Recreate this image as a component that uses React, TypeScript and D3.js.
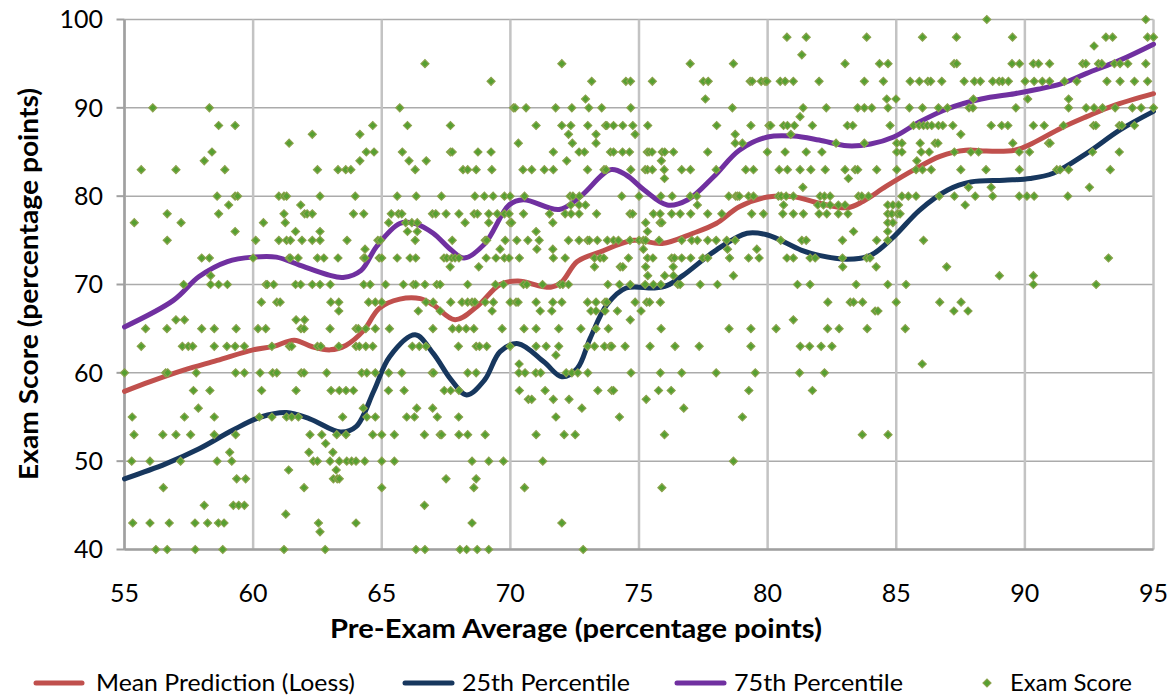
import React from "react";
import * as d3 from "d3";

// Exam scores grouped by score value: each row lists the pre-exam averages of students with that score
const scoreRows: [number, number[]][] = [
  [100, [88.52, 94.7]],
  [98, [80.75, 81.5, 83.85, 86.02, 87.34, 89.52, 93.15, 93.41, 94.77, 95.0]],
  [97, [92.69]],
  [96, [81.33]],
  [95, [66.68, 72.0, 76.99, 78.67, 83.01, 84.35, 84.68, 87.25, 87.35, 89.5, 89.79, 90.33, 90.53, 90.96, 92.25, 92.37, 92.86, 92.99, 93.48, 93.7, 94.0, 94.7]],
  [93, [69.25, 73.16, 74.49, 74.67, 75.52, 77.5, 77.69, 79.32, 79.4, 79.75, 79.9, 79.97, 80.49, 80.68, 81.0, 82.0, 83.76, 84.5, 85.54, 85.9, 86.23, 86.34, 86.77, 87.64, 88.04, 88.27, 88.75, 89.0, 89.13, 89.36, 90.01, 90.36, 90.68, 90.96, 91.54, 92.02, 93.19, 93.7, 94.26, 94.77]],
  [91, [72.92, 77.58, 84.63, 84.99, 88.0, 90.11, 91.7]],
  [90, [56.1, 58.3, 65.7, 70.12, 70.18, 70.61, 71.76, 72.39, 73.05, 73.55, 74.68, 78.63, 81.38, 82.28, 83.5, 83.76, 84.05, 84.68, 85.51, 86.02, 86.64, 86.99, 87.83, 87.98, 89.65, 91.7, 92.38, 92.69, 93.02, 93.51, 94.18, 94.52, 95.0]],
  [89, [81.26]],
  [88, [58.66, 59.3, 64.65, 66.0, 67.67, 71.0, 72.0, 72.35, 73.01, 73.7, 73.75, 74.01, 74.37, 74.76, 75.34, 78.02, 79.35, 80.05, 80.12, 80.62, 80.77, 81.04, 81.74, 83.1, 83.31, 84.76, 85.67, 85.89, 86.06, 86.21, 86.38, 86.64, 86.81, 87.2, 88.69, 89.1, 89.34, 90.33, 90.75, 91.5, 92.67, 92.76, 93.67, 93.77, 94.26]],
  [87, [62.3, 64.15, 72.26, 73.33, 74.85, 78.74, 80.9, 87.51]],
  [86, [61.4, 70.31, 72.41, 73.33, 78.74, 79.02, 82.66, 83.76, 85.02, 85.22, 85.93, 86.51, 86.62, 89.53, 90.92, 90.98]],
  [85, [58.4, 64.4, 64.7, 65.8, 67.67, 67.74, 68.74, 69.25, 71.67, 72.67, 72.88, 73.89, 74.01, 74.36, 74.63, 75.32, 75.39, 75.51, 75.9, 76.0, 76.34, 77.67, 79.99, 80.68, 81.5, 82.11, 85.02, 85.22, 85.97, 86.28, 87.26, 87.9, 88.2, 89.78, 90.18, 92.63, 93.67]],
  [84, [58.1, 64.15, 66.06, 66.73, 72.19, 75.87, 85.8]],
  [83, [55.65, 57.0, 58.9, 62.5, 63.3, 63.6, 63.8, 66.3, 68.16, 68.34, 68.67, 69.28, 70.49, 70.83, 71.32, 71.67, 73.0, 73.64, 73.72, 74.68, 75.24, 75.33, 75.52, 75.98, 76.66, 77.0, 78.0, 79.15, 79.45, 80.45, 80.77, 81.26, 81.68, 82.24, 83.01, 83.4, 83.5, 84.24, 85.02, 85.77, 86.02, 86.36, 87.51, 88.49, 89.79, 91.24, 91.37, 91.7, 93.32]],
  [82, [75.99, 83.14]],
  [81, [81.37, 87.81, 88.69, 92.51]],
  [80, [58.6, 59.3, 59.4, 61.0, 61.2, 61.3, 62.6, 63.97, 65.6, 66.34, 67.32, 68.62, 68.99, 69.33, 69.77, 69.99, 70.55, 72.32, 72.43, 72.68, 74.33, 75.0, 75.85, 76.29, 76.99, 77.25, 78.49, 78.76, 78.83, 78.9, 79.26, 79.45, 80.42, 80.53, 80.72, 81.0, 82.04, 82.21, 82.43, 83.53, 83.66, 83.92, 85.22, 85.47, 85.77, 86.67, 87.26, 88.07, 88.75, 89.78, 90.08, 90.36, 91.67]],
  [79, [59.05, 61.85, 72.35, 72.67, 72.92, 77.27, 80.62, 81.95, 82.17, 82.43, 82.75, 83.01, 84.67, 84.87, 85.09, 87.68]],
  [78, [56.66, 58.66, 61.2, 62.0, 62.1, 62.3, 63.9, 64.3, 65.37, 65.65, 65.78, 66.97, 67.1, 67.5, 68.0, 68.59, 68.72, 69.16, 69.49, 69.77, 69.95, 70.51, 71.52, 72.13, 72.36, 72.67, 73.35, 74.65, 74.75, 75.56, 75.82, 76.27, 76.6, 77.01, 77.67, 78.22, 79.38, 79.84, 80.59, 81.0, 81.39, 82.0, 82.3, 82.75, 83.12, 84.67, 84.83, 85.05, 85.15]],
  [77, [55.38, 57.2, 60.4, 61.25, 65.27, 65.93, 66.17, 66.38, 68.24, 69.16, 69.99, 70.05, 71.65, 75.26, 75.82, 75.89, 84.67, 84.87]],
  [76, [59.3, 61.65, 62.6, 66.0, 66.38, 71.0, 75.33, 83.34, 84.67]],
  [75, [56.66, 60.1, 61.0, 61.3, 61.45, 61.9, 62.3, 62.6, 63.65, 64.85, 64.95, 66.3, 67.74, 69.02, 69.08, 69.8, 70.25, 70.68, 71.12, 72.26, 72.67, 73.0, 73.07, 73.38, 73.77, 74.01, 74.2, 74.65, 75.0, 75.17, 75.26, 75.78, 76.66, 77.05, 77.27, 77.67, 78.0, 78.41, 78.74, 80.51, 81.33, 81.5, 82.91, 84.24, 84.67, 86.06]],
  [74, [64.35, 69.6, 71.03, 71.65, 75.17, 78.44, 79.58]],
  [73, [58.0, 58.3, 60.0, 61.4, 61.45, 61.75, 62.5, 62.75, 63.3, 64.3, 64.35, 64.9, 65.0, 65.6, 66.1, 66.32, 67.42, 67.53, 67.72, 67.85, 68.0, 69.06, 69.44, 69.77, 69.95, 70.35, 71.67, 72.13, 73.27, 73.49, 73.63, 74.59, 75.33, 75.54, 76.27, 76.38, 76.66, 77.01, 77.48, 77.67, 78.52, 79.26, 79.67, 80.75, 81.0, 81.65, 81.85, 82.91, 83.85, 83.98, 93.25]],
  [72, [67.66, 68.77, 73.27, 74.27, 74.37, 75.26, 76.33, 82.92, 84.22, 86.96]],
  [71, [58.35, 75.34, 76.0, 76.34, 78.67, 89.01, 90.33]],
  [70, [57.3, 58.35, 58.66, 59.0, 60.5, 60.55, 60.8, 61.65, 61.85, 62.3, 62.6, 63.0, 64.3, 64.55, 65.15, 65.84, 66.23, 66.32, 66.68, 67.14, 67.27, 68.34, 69.42, 69.73, 70.51, 70.64, 71.25, 71.93, 72.04, 72.26, 73.79, 74.24, 74.66, 75.24, 75.56, 75.85, 76.51, 76.6, 77.38, 78.05, 81.16, 81.65, 83.44, 84.67, 85.38, 90.33, 92.77]],
  [68, [60.32, 60.92, 61.05, 63.02, 63.33, 64.49, 64.75, 65.0, 66.72, 67.0, 67.68, 68.12, 68.34, 68.51, 68.62, 69.02, 69.34, 69.99, 70.22, 70.3, 71.0, 71.65, 72.0, 73.0, 73.33, 73.68, 73.75, 74.85, 75.3, 75.41, 75.83, 82.34, 83.21, 83.34, 83.69, 85.0, 86.69, 87.52]],
  [67, [63.33, 66.42, 67.27, 69.29, 71.16, 71.61, 73.13, 73.33, 73.68, 74.16, 75.08, 84.18, 84.29, 87.24, 87.79]],
  [66, [57.0, 57.33, 61.67, 62.0, 74.66, 81.0]],
  [65, [55.82, 56.65, 58.0, 58.49, 59.34, 60.19, 60.49, 61.86, 61.98, 62.99, 64.0, 64.09, 64.38, 64.75, 65.3, 66.99, 67.75, 68.0, 68.28, 68.58, 69.68, 70.53, 71.0, 71.88, 72.74, 73.33, 73.81, 75.86, 78.5, 79.35, 80.33, 82.33, 82.78, 83.87, 85.35]],
  [63, [55.65, 57.25, 57.48, 57.65, 58.49, 58.98, 59.3, 59.66, 60.73, 61.41, 61.5, 62.5, 62.63, 63.33, 64.0, 64.13, 64.38, 64.65, 66.19, 66.46, 66.72, 67.98, 68.67, 68.8, 69.08, 69.99, 71.0, 71.39, 71.88, 73.0, 73.27, 73.66, 73.88, 73.94, 74.46, 75.43, 76.4, 77.34, 79.35, 81.27, 81.63, 82.08, 82.5]],
  [62, [71.77]],
  [61, [70.34, 86.01]],
  [60, [55.0, 56.6, 56.68, 57.79, 59.32, 59.66, 60.27, 60.76, 60.92, 61.87, 61.98, 62.86, 64.22, 64.42, 64.75, 65.27, 65.78, 66.96, 67.02, 68.34, 68.67, 70.33, 70.57, 70.99, 71.18, 72.17, 72.39, 72.62, 73.01, 74.69, 75.83, 76.66, 78.0, 79.52, 81.24, 82.21]],
  [58, [57.68, 58.32, 60.33, 61.67, 63.03, 63.35, 63.61, 63.9, 65.26, 65.87, 67.43, 67.68, 68.0, 70.35, 71.35, 73.4, 73.94, 74.01, 75.76, 76.25, 79.27, 81.74]],
  [57, [70.7, 70.83, 71.67, 72.28, 75.28]],
  [56, [57.87, 64.28, 66.36, 66.98, 72.78, 76.74]],
  [55, [55.3, 57.33, 58.49, 60.24, 60.73, 61.3, 61.5, 61.76, 63.48, 64.42, 64.75, 65.97, 66.27, 67.16, 67.99, 71.77, 74.24, 79.02]],
  [53, [55.37, 56.49, 57.0, 57.57, 58.49, 59.32, 62.21, 62.67, 63.25, 63.61, 64.65, 65.0, 65.49, 66.66, 67.27, 67.33, 68.0, 68.34, 69.02, 71.0, 72.09, 72.52, 75.99, 83.68, 84.68]],
  [52, [62.82]],
  [51, [59.09, 62.17, 63.1]],
  [50, [55.28, 55.99, 57.18, 58.6, 59.17, 62.34, 62.5, 62.99, 63.35, 63.64, 63.83, 64.0, 64.34, 65.0, 65.49, 68.51, 69.16, 69.73, 71.26, 78.67]],
  [49, [61.38, 63.23]],
  [48, [59.36, 59.71, 63.12, 63.27, 63.35, 67.5, 68.67]],
  [47, [56.51, 61.98, 65.0, 68.58, 70.55, 75.89]],
  [45, [58.1, 59.23, 59.44, 59.66, 66.66]],
  [44, [61.27]],
  [43, [55.32, 55.99, 56.74, 57.74, 58.23, 58.65, 58.87, 62.54, 64.0, 68.51, 72.0]],
  [42, [62.6]],
  [40, [56.22, 56.66, 57.75, 58.82, 61.2, 62.8, 66.33, 66.68, 68.04, 68.3, 68.71, 69.16, 72.83]],
];

// Loess mean prediction (pre-exam average, predicted score)
const meanX = [55, 56, 57.3, 58.6, 60, 60.8, 61.6, 62.3, 63, 63.6, 64.3, 64.9, 65.7, 66.5, 67, 67.85, 68.7, 69.6, 70.3, 71.2, 71.6, 72, 72.6, 73.5, 74.8, 75.9, 77.1, 78, 78.9, 80, 81, 82, 83.1, 83.7, 84.6, 85.7, 86.7, 87.7, 88.5, 89.6, 90.3, 91.4, 92.4, 93.4, 95];
const meanY = [57.9, 59.0, 60.3, 61.4, 62.6, 63.0, 63.7, 62.95, 62.6, 63.1, 64.8, 67.3, 68.35, 68.4, 67.7, 66.0, 67.5, 70.0, 70.4, 69.8, 69.7, 70.3, 72.6, 73.7, 75.0, 74.65, 75.8, 76.9, 78.8, 79.9, 79.95, 79.2, 78.7, 79.4, 81.1, 83.0, 84.5, 85.2, 85.1, 85.2, 86.0, 87.7, 89.0, 90.2, 91.6];

// 25th percentile curve
const p25X = [55, 56.6, 57.9, 59.2, 60.3, 61.3, 62.2, 63.4, 64.0, 64.7, 65.3, 66.3, 67.0, 67.7, 68.3, 69.0, 69.6, 70.3, 71.3, 72.0, 72.6, 73.1, 73.75, 74.5, 75.6, 76.1, 76.7, 78.0, 79.2, 80.0, 81.3, 82.0, 83.1, 84.0, 84.9, 85.9, 87.0, 87.9, 89.2, 90.2, 91.1, 92.4, 93.7, 95];
const p25Y = [48.0, 49.7, 51.4, 53.5, 55.0, 55.5, 54.8, 53.3, 53.9, 58.0, 61.8, 64.3, 62.2, 59.2, 57.5, 59.2, 62.4, 63.3, 61.25, 59.55, 60.5, 63.9, 67.7, 69.6, 69.6, 69.9, 71.0, 73.9, 75.8, 75.6, 73.9, 73.3, 72.85, 73.3, 75.4, 78.4, 80.7, 81.6, 81.8, 82.0, 82.6, 84.85, 87.5, 89.6];

// 75th percentile curve
const p75X = [55, 56.9, 57.9, 59.0, 60.0, 60.9, 61.8, 62.9, 63.5, 64.2, 64.8, 65.7, 66.3, 67.0, 67.7, 68.2, 69.0, 69.95, 70.5, 71.9, 72.7, 73.9, 74.5, 75.2, 76.1, 76.9, 77.9, 78.9, 80.0, 81.0, 82.0, 83.1, 84.0, 84.9, 85.9, 87.0, 88.3, 89.6, 90.5, 91.4, 92.4, 93.7, 95];
const p75Y = [65.2, 68.2, 70.9, 72.6, 73.1, 73.1, 72.2, 71.1, 70.8, 71.6, 74.3, 76.9, 76.9, 75.8, 73.9, 73.0, 74.6, 79.0, 79.6, 78.5, 79.9, 83.0, 82.4, 80.7, 79.0, 79.6, 82.2, 85.2, 86.7, 86.8, 86.35, 85.7, 85.9, 86.7, 88.4, 89.9, 91.0, 91.6, 92.1, 92.7, 93.9, 95.4, 97.2];

const xTicks = [55, 60, 65, 70, 75, 80, 85, 90, 95];
const yTicks = [40, 50, 60, 70, 80, 90, 100];

const FONT = "Lato, 'Open Sans', sans-serif";
const RED = "#C0504D";
const NAVY = "#17375E";
const PURPLE = "#7030A0";
const DOT_FILL = "#55A031";
const DOT_STROKE = "#8AA24C";

export default function App() {
  const width = 1176;
  const height = 696;
  const x = d3.scaleLinear().domain([55, 95]).range([124.5, 1153.5]);
  const y = d3.scaleLinear().domain([40, 100]).range([549.5, 19.5]);

  const line = d3
    .line<[number, number]>()
    .x((d) => x(d[0]))
    .y((d) => y(d[1]))
    .curve(d3.curveCatmullRom.alpha(0.5));

  const zip = (a: number[], b: number[]) => a.map((v, i) => [v, b[i]] as [number, number]);

  const series = [
    { name: "Mean Prediction (Loess)", color: RED, pts: zip(meanX, meanY) },
    { name: "25th Percentile", color: NAVY, pts: zip(p25X, p25Y) },
    { name: "75th Percentile", color: PURPLE, pts: zip(p75X, p75Y) },
  ];

  const points: [number, number][] = [];
  scoreRows.forEach(([score, xs]) => xs.forEach((v) => points.push([v, score])));

  const diamond = d3.symbol(d3.symbolSquare, 32)();

  const legendItems = [
    { kind: "line", color: RED, label: "Mean Prediction (Loess)", x0: 36, x1: 82, tx: 96, len: 259 },
    { kind: "line", color: NAVY, label: "25th Percentile", x0: 405, x1: 452, tx: 462, len: 168 },
    { kind: "line", color: PURPLE, label: "75th Percentile", x0: 677, x1: 724, tx: 734, len: 169 },
    { kind: "dot", color: DOT_FILL, label: "Exam Score", x0: 987, x1: 987, tx: 1010, len: 122 },
  ];
  const legendY = 683;

  return (
    <svg
      width={width}
      height={height}
      style={{ position: "absolute", left: 0, top: 0, background: "#fff" }}
      fontFamily={FONT}
    >
      {/* horizontal gridlines */}
      {yTicks.map((t) => (
        <line key={"h" + t} x1={x(55)} x2={x(95)} y1={y(t)} y2={y(t)} stroke="#ABABAB" strokeWidth={1.5} />
      ))}
      {/* vertical gridlines */}
      {xTicks.map((t) => (
        <line key={"v" + t} x1={x(t)} x2={x(t)} y1={y(100)} y2={y(40)} stroke="#C3C3C3" strokeWidth={2.5} />
      ))}
      {/* axes */}
      <line x1={x(55)} x2={x(55)} y1={y(100)} y2={y(40)} stroke="#A0A0A0" strokeWidth={2.5} />
      <line x1={x(55)} x2={x(95)} y1={y(40)} y2={y(40)} stroke="#A0A0A0" strokeWidth={2.5} />
      {yTicks.map((t) => (
        <line key={"yt" + t} x1={x(55) - 8} x2={x(55)} y1={y(t)} y2={y(t)} stroke="#A0A0A0" strokeWidth={2} />
      ))}

      {/* tick labels */}
      {yTicks.map((t) => (
        <text key={"yl" + t} x={103} y={y(t)} dy="0.35em" textAnchor="end" fontSize={25} fill="#000">
          {t}
        </text>
      ))}
      {xTicks.map((t) => (
        <text key={"xl" + t} x={x(t)} y={593} dy="0.35em" textAnchor="middle" fontSize={25} fill="#000">
          {t}
        </text>
      ))}

      {/* axis titles */}
      <text
        x={576}
        y={629}
        dy="0.35em"
        textAnchor="middle"
        fontSize={27}
        fontWeight="bold"
        fill="#000"
        textLength={492}
        lengthAdjust="spacingAndGlyphs"
      >
        Pre-Exam Average (percentage points)
      </text>
      <text
        transform={`translate(29, ${284}) rotate(-90)`}
        dy="0.35em"
        textAnchor="middle"
        fontSize={27}
        fontWeight="bold"
        fill="#000"
        textLength={392}
        lengthAdjust="spacingAndGlyphs"
      >
        Exam Score (percentage points)
      </text>

      {/* fitted curves */}
      {series.map((s) => (
        <path key={s.name} d={line(s.pts) ?? ""} fill="none" stroke={s.color} strokeWidth={5} strokeLinecap="round" />
      ))}

      {/* exam scores */}
      {points.map((p, i) => (
        <path
          key={"p" + i}
          d={diamond ?? ""}
          transform={`translate(${x(p[0])},${y(p[1])}) rotate(45)`}
          fill={DOT_FILL}
          stroke={DOT_STROKE}
          strokeWidth={1.2}
        />
      ))}

      {/* legend */}
      {legendItems.map((l) => (
        <g key={l.label}>
          {l.kind === "line" ? (
            <line x1={l.x0} x2={l.x1} y1={legendY} y2={legendY} stroke={l.color} strokeWidth={5} strokeLinecap="round" />
          ) : (
            <path
              d={diamond ?? ""}
              transform={`translate(${l.x0},${legendY}) rotate(45)`}
              fill={DOT_FILL}
              stroke={DOT_STROKE}
              strokeWidth={1.2}
            />
          )}
          <text
            x={l.tx}
            y={legendY}
            dy="0.35em"
            fontSize={24}
            fill="#000"
            textLength={l.len}
            lengthAdjust="spacingAndGlyphs"
          >
            {l.label}
          </text>
        </g>
      ))}
    </svg>
  );
}
